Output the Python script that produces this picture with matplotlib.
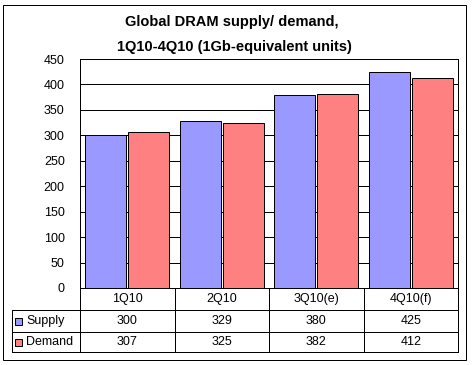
import matplotlib.pyplot as plt
import matplotlib.patches as mpatches
import numpy as np

plt.rcParams['font.family'] = ['Liberation Sans', 'DejaVu Sans']

quarters = ["1Q10", "2Q10", "3Q10(e)", "4Q10(f)"]
supply = [300, 329, 380, 425]
demand = [307, 325, 382, 412]
series_names = ["Supply", "Demand"]
series_colors = ["#9999FF", "#FF8080"]
yticks = [0, 50, 100, 150, 200, 250, 300, 350, 400, 450]

W, H = 475, 365
fig = plt.figure(figsize=(W / 100, H / 100), dpi=100)
px = 0.72  # one pixel in points

# plot area in pixels
L, R, T, B = 80, 458, 59, 288
ax = fig.add_axes([L / W, 1 - B / H, (R - L) / W, (B - T) / H])

x = np.arange(len(quarters))
w = 0.434
off = 0.2275
ax.bar(x - off, supply, w, color=series_colors[0], edgecolor="black", linewidth=px, zorder=2)
ax.bar(x + off, demand, w, color=series_colors[1], edgecolor="black", linewidth=px, zorder=2)

ax.set_xlim(-0.5, len(quarters) - 0.5)
ax.set_ylim(0, 450)
ax.set_yticks(yticks)
ax.set_xticks([])
ax.yaxis.grid(True, color="black", linewidth=px)
ax.set_axisbelow(True)
ax.tick_params(axis="y", length=0, pad=11, labelsize=9)
for s in ax.spines.values():
    s.set_linewidth(px)
    s.set_color("black")

# overlay in pixel coordinates for title, table and border
ov = fig.add_axes([0, 0, 1, 1], zorder=5)
ov.set_xlim(0, W)
ov.set_ylim(H, 0)
ov.axis("off")
ov.patch.set_alpha(0)

ov.add_patch(mpatches.Rectangle((3, 5), 463, 355, fill=False, edgecolor="black", linewidth=px))

ov.text(232, 22, "Global DRAM supply/ demand,", ha="center", va="center",
        fontsize=10.5, fontweight="bold")
ov.text(234, 47, "1Q10-4Q10 (1Gb-equivalent units)", ha="center", va="center",
        fontsize=10.5, fontweight="bold")

# data table
col_edges = np.linspace(L, R, len(quarters) + 1)
row_y = [288, 310, 332, 352]
lx = 12
for xe in col_edges:
    ov.plot([xe, xe], [row_y[0], row_y[-1]], color="black", linewidth=px)
ov.plot([lx, lx], [row_y[1], row_y[-1]], color="black", linewidth=px)
for ye in row_y[1:]:
    ov.plot([lx, R], [ye, ye], color="black", linewidth=px)

centers = (col_edges[:-1] + col_edges[1:]) / 2
for cx, q in zip(centers, quarters):
    ov.text(cx, (row_y[0] + row_y[1]) / 2, q, ha="center", va="center", fontsize=9)

for i, (name, vals, col) in enumerate(zip(series_names, [supply, demand], series_colors)):
    cy = (row_y[i + 1] + row_y[i + 2]) / 2
    ov.add_patch(mpatches.Rectangle((15, cy - 3.5), 7, 7, facecolor=col,
                                    edgecolor="black", linewidth=px))
    ov.text(26, cy, name, ha="left", va="center", fontsize=9)
    for cx, v in zip(centers, vals):
        ov.text(cx, cy, str(v), ha="center", va="center", fontsize=9)

fig.savefig("out.png", dpi=100)
